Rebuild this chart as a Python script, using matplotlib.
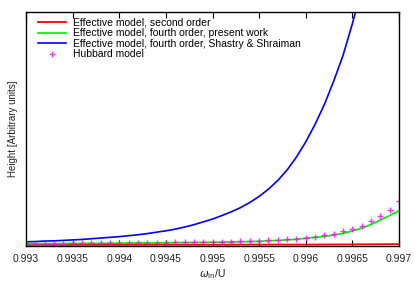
import numpy as np
import matplotlib
matplotlib.use("Agg")
import matplotlib.pyplot as plt

# omega_in / U grid, step 1e-4
omega = [0.9930, 0.9931, 0.9932, 0.9933, 0.9934, 0.9935, 0.9936, 0.9937, 0.9938, 0.9939,
         0.9940, 0.9941, 0.9942, 0.9943, 0.9944, 0.9945, 0.9946, 0.9947, 0.9948, 0.9949,
         0.9950, 0.9951, 0.9952, 0.9953, 0.9954, 0.9955, 0.9956, 0.9957, 0.9958, 0.9959,
         0.9960, 0.9961, 0.9962, 0.9963, 0.9964, 0.9965, 0.9966, 0.9967, 0.9968, 0.9969,
         0.9970]

# second order (nearly flat)
omega_2nd = [0.9930, 0.9935, 0.9940, 0.9945, 0.9950, 0.9955, 0.9960, 0.9965, 0.9970]
height_2nd = [0.5, 0.5, 0.5, 0.55, 0.55, 0.6, 0.6, 0.7, 0.8]

# fourth order, present work
height_4th = [1.0, 1.0, 1.0, 1.05, 1.05, 1.1, 1.1, 1.15, 1.15, 1.2,
              1.2, 1.25, 1.3, 1.3, 1.35, 1.4, 1.45, 1.5, 1.5, 1.55,
              1.6, 1.7, 1.75, 1.8, 1.9, 2.0, 2.2, 2.4, 2.6, 2.9,
              3.3, 3.7, 4.1, 4.7, 5.4, 6.4, 7.6, 9.2, 11.1, 13.0,
              15.1]

# fourth order, Shastry & Shraiman (leaves the frame near 0.9965)
omega_ss = omega[:37]
height_ss = [1.8, 1.9, 2.1, 2.2, 2.4, 2.6, 2.8, 3.1, 3.4, 3.7,
             4.0, 4.4, 4.8, 5.3, 5.9, 6.5, 7.2, 8.1, 9.1, 10.3,
             11.5, 13.0, 14.6, 16.4, 18.6, 21.2, 24.3, 28.0, 32.5, 38.0,
             44.5, 52.0, 60.5, 70.5, 81.5, 95.0, 110.0]

# Hubbard model
height_hub = [1.0, 1.0, 1.0, 1.05, 1.05, 1.1, 1.1, 1.15, 1.2, 1.2,
              1.25, 1.3, 1.3, 1.35, 1.4, 1.45, 1.5, 1.55, 1.6, 1.65,
              1.7, 1.8, 1.85, 1.95, 2.05, 2.2, 2.4, 2.6, 2.8, 3.0,
              3.5, 4.0, 4.7, 5.3, 6.4, 7.4, 8.7, 10.5, 12.7, 15.5,
              19.2]

xticks = [0.993, 0.9935, 0.994, 0.9945, 0.995, 0.9955, 0.996, 0.9965, 0.997]
xticklabels = ["0.993", "0.9935", "0.994", "0.9945", "0.995", "0.9955", "0.996", "0.9965", "0.997"]

plt.rcParams['font.family'] = ['Liberation Sans', 'DejaVu Sans']

fig = plt.figure(figsize=(4.15, 2.91), dpi=100)
ax = fig.add_axes([26/415, 1 - 246/291, 373/415, 234/291])

ax.plot(omega_2nd, height_2nd, color='#ff0000', lw=1.3, label='Effective model, second order')
ax.plot(omega, height_4th, color='#00ee00', lw=1.2, label='Effective model, fourth order, present work')
ax.plot(omega_ss, height_ss, color='#0000ff', lw=1.2, label='Effective model, fourth order, Shastry & Shraiman')
ax.plot(omega, height_hub, ls='none', marker='+', ms=4, mew=1.0, color='#ff00ff', alpha=0.8,
        label='Hubbard model')

ax.set_xlim(0.993, 0.997)
ax.set_ylim(0, 100)
ax.set_xticks(xticks)
ax.set_xticklabels(xticklabels, fontsize=7.5, color='#222222')
ax.set_yticks([])
ax.tick_params(axis='x', direction='in', top=True, length=4, width=0.8, pad=6)
for s in ax.spines.values():
    s.set_linewidth(1.0)

ax.set_xlabel(r'$\omega_{\mathrm{in}}$/U', fontsize=7.5, labelpad=2, color='#222222')
fig.text(13/415, 1 - 129/291, 'Height [Arbitrary units]', rotation=90, fontsize=7,
         ha='center', va='center', color='#222222')

ax.legend(loc='upper left', bbox_to_anchor=(0.016, 1.0), frameon=False, fontsize=7.5,
          handlelength=2.7, handletextpad=0.65, labelspacing=0.05, borderpad=0.25,
          borderaxespad=0.3)

fig.savefig('out.png', dpi=100)
